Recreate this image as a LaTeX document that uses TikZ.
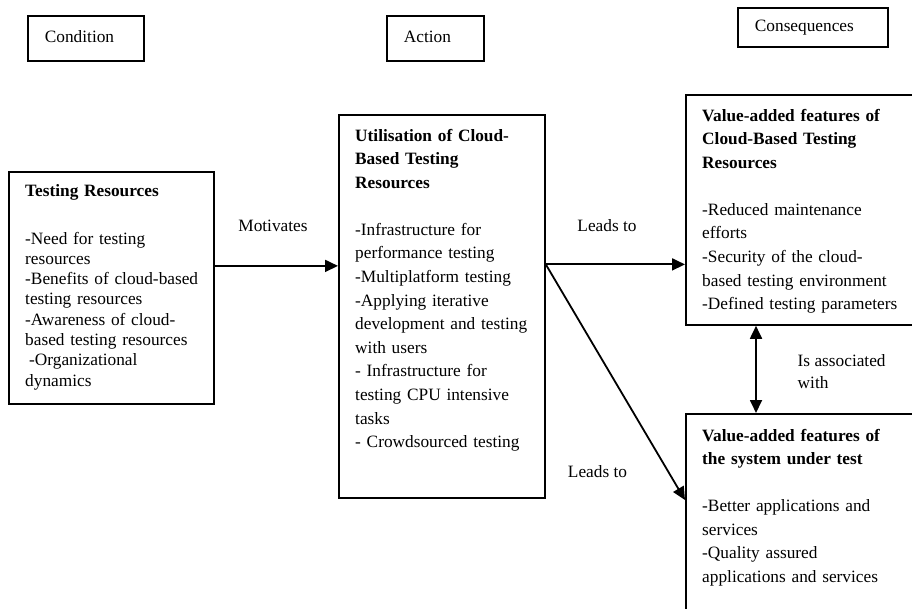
\documentclass[tikz,border=0pt]{standalone}
\usepackage{fontspec}
\setmainfont{Liberation Serif}
\usetikzlibrary{arrows.meta, positioning, calc}
\tikzstyle{box} = [draw, line width=1.8pt, inner sep=0pt, anchor=north west]
\tikzstyle{head} = [draw, line width=1.8pt, anchor=north west, inner xsep=17pt, inner ysep=0pt, text height=12pt, text depth=4pt, align=left]
\tikzstyle{body} = [anchor=north west, inner sep=0pt, align=left, text width=250pt]
\tikzstyle{lbl} = [inner sep=0pt]
\tikzstyle{arrow} = [-{Triangle[length=13pt, width=12pt]}, line width=1.8pt]
\tikzstyle{dblarrow} = [{Triangle[length=13pt, width=12pt]}-{Triangle[length=13pt, width=12pt]}, line width=1.8pt]
\newcommand{\bodyfont}{\fontsize{17.3}{23.6}\selectfont}
\newcommand{\tightfont}{\fontsize{17.3}{20.3}\selectfont}

\begin{document}
\begin{tikzpicture}[x=1pt, y=-1pt, font=\bodyfont]
    \clip (0,0) rectangle (912,609);

    % Column headers
    \node[head, text width=82pt, minimum height=45pt] (cond) at (27,15) {Condition};
    \node[head, text width=63pt, minimum height=45pt] (act) at (386,15) {Action};
    \node[head, text width=116pt, minimum height=39pt] (cons) at (737,7) {Consequences};

    % Boxes
    \node[box, minimum width=205pt, minimum height=232pt] (trbox) at (8,171) {};
    \node[box, minimum width=206pt, minimum height=383pt] (utilbox) at (338,114) {};
    \node[box, minimum width=245pt, minimum height=230pt] (vacb) at (685,94) {};
    \node[box, minimum width=245pt, minimum height=230pt] (sut) at (685,413) {};

    % Box texts
    \node[body, font=\tightfont] (trtext) at ([xshift=17pt, yshift=-13pt]trbox.north west) {%
        \textbf{Testing Resources}\\[27.5pt]
        -Need for testing\\
        resources\\
        -Benefits of cloud-based\\
        testing resources\\
        -Awareness of cloud-\\
        based testing resources\\
        \hspace*{4pt}-Organizational\\
        dynamics};
    \node[body] (utiltext) at ([xshift=17pt, yshift=-14.7pt]utilbox.north west) {%
        \textbf{Utilisation of Cloud-}\\
        \textbf{Based Testing}\\
        \textbf{Resources}\\[23.5pt]
        -Infrastructure for\\
        performance testing\\
        -Multiplatform testing\\
        -Applying iterative\\
        development and testing\\
        with users\\
        - Infrastructure for\\
        testing CPU intensive\\
        tasks\\
        - Crowdsourced testing};
    \node[body] (vacbtext) at ([xshift=17pt, yshift=-14.7pt]vacb.north west) {%
        \textbf{Value-added features of}\\
        \textbf{Cloud-Based Testing}\\
        \textbf{Resources}\\[23.5pt]
        -Reduced maintenance\\
        efforts\\
        -Security of the cloud-\\
        based testing environment\\
        -Defined testing parameters};
    \node[body] (suttext) at ([xshift=17pt, yshift=-15.7pt]sut.north west) {%
        \textbf{Value-added features of}\\
        \textbf{the system under test}\\[23.5pt]
        -Better applications and\\
        services\\
        -Quality assured\\
        applications and services};

    % Connectors
    \draw[arrow] (trbox.east) ++(0,-22) coordinate (m1) -- (m1 -| utilbox.west);
    \draw[arrow] (utilbox.east) ++(0,-42) coordinate (m2) -- (m2 -| vacb.west);
    \draw[arrow] (m2) -- ([yshift=-87pt]sut.north west);
    \draw[dblarrow] ([xshift=71pt]vacb.south west) coordinate (d1) -- (d1 |- sut.north);

    % Labels
    \node[lbl, anchor=base] (motlbl) at (273,231.5) {Motivates};
    \node[lbl, anchor=base] (leadlbl) at (607,231.5) {Leads to};
    \node[lbl, anchor=base] (leadlbl2) at (597.5,477) {Leads to};
    \node[lbl, anchor=north west, align=left, font=\fontsize{17.3}{22.3}\selectfont] (asslbl) at (797.5,354) {Is associated\\with};
\end{tikzpicture}
\end{document}
